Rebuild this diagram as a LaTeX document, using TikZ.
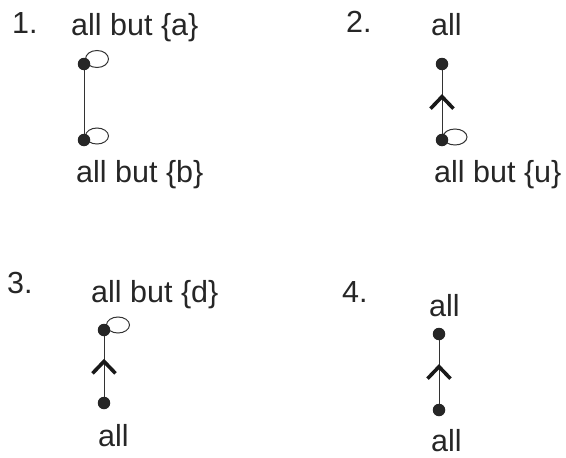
\documentclass[tikz,border=0pt]{standalone}
\usepackage{fontspec}
\setmainfont{Liberation Sans}
\usetikzlibrary{decorations.markings}
\tikzset{
  vert/.style={circle, fill=black!85, inner sep=0pt, minimum size=12.5pt},
  lbl/.style={font=\fontsize{30.5}{30.5}\selectfont, inner sep=0pt, anchor=base west, text=black!85},
  edge/.style={line width=1pt, black!80},
  upedge/.style={edge, postaction={decorate}, decoration={markings,
      mark=at position 0.57 with {\draw[line width=3.6pt, black!90, line cap=butt, line join=miter]
        (-12pt,-11.5pt) -- (0,0) -- (-12pt,11.5pt);}}},
  selfloop/.style={line width=1pt, black!80}
}
\begin{document}
\begin{tikzpicture}[x=1pt, y=-1pt]
\useasboundingbox (0,0) rectangle (566,458);

% 1.
\node[lbl] (n1) at (12,33) {1.};
\node[lbl] (t1) at (71,35) {all but \{a\}};
\node[lbl] (b1) at (76,182) {all but \{b\}};
\coordinate (a1) at (84,64);
\coordinate (c1) at (84,140);
\draw[selfloop] (a1) ++(13,-5) ellipse [x radius=11.5, y radius=8.5];
\draw[selfloop] (c1) ++(13,-4) ellipse [x radius=11.5, y radius=8];
\draw[edge] (a1) -- (c1);
\node[vert] at (a1) {};
\node[vert] at (c1) {};

% 2.
\node[lbl] (n2) at (346,32) {2.};
\node[lbl] (t2) at (431,35) {all};
\node[lbl] (b2) at (434,182) {all but \{u\}};
\coordinate (a2) at (442,64);
\coordinate (c2) at (442,140);
\draw[selfloop] (c2) ++(13,-3) ellipse [x radius=12, y radius=8];
\draw[upedge] (c2) -- (a2);
\node[vert] at (a2) {};
\node[vert] at (c2) {};

% 3.
\node[lbl] (n3) at (7,293) {3.};
\node[lbl] (t3) at (91,302) {all but \{d\}};
\node[lbl] (b3) at (98,446) {all};
\coordinate (a3) at (104,330);
\coordinate (c3) at (104,403);
\draw[selfloop] (a3) ++(14,-5) ellipse [x radius=11.5, y radius=8];
\draw[upedge] (c3) -- (a3);
\node[vert] at (a3) {};
\node[vert] at (c3) {};

% 4.
\node[lbl] (n4) at (342,302) {4.};
\node[lbl] (t4) at (429,316) {all};
\node[lbl] (b4) at (431,451) {all};
\coordinate (a4) at (439,334);
\coordinate (c4) at (439,410);
\draw[upedge] (c4) -- (a4);
\node[vert] at (a4) {};
\node[vert] at (c4) {};
\end{tikzpicture}
\end{document}
